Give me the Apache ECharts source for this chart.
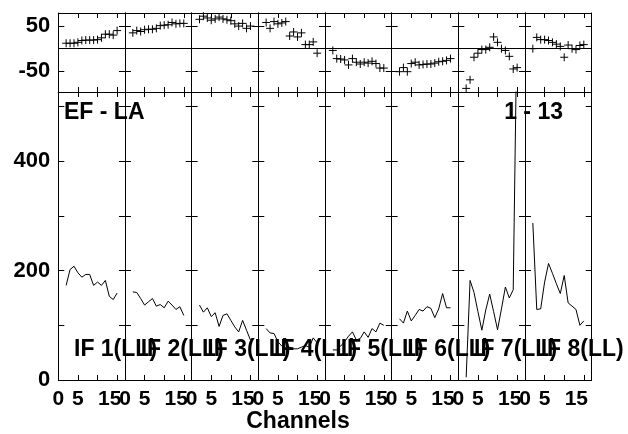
<!DOCTYPE html>
<html>
<head>
<meta charset="utf-8">
<script src="https://cdn.jsdelivr.net/npm/echarts@6/dist/echarts.min.js"></script>
<style>html,body{margin:0;padding:0;background:#fff}#c{width:628px;height:434px}</style>
</head>
<body>
<div id="c"></div>
<script>
// ---- data ----
const CHANNELS = [2, 3, 4, 5, 6, 7, 8, 9, 10, 11, 12, 13, 14, 15];
const IF_LABELS = ['IF 1(LL)', 'IF 2(LL)', 'IF 3(LL)', 'IF 4(LL)', 'IF 5(LL)', 'IF 6(LL)', 'IF 7(LL)', 'IF 8(LL)'];
const BASELINE_LABEL = 'EF - LA';
const TIME_LABEL = '1 - 13';
const X_NAME = 'Channels';
const X_TICK_LABELS = [0, 5, 15];
const AMP_TICK_LABELS = [0, 200, 400];
const PHASE_TICK_LABELS = [-50, 50];

const PHASE_1 = [12, 12, 12, 14, 18, 19, 19, 19, 20, 24, 32, 32, 30, 40];
const PHASE_2 = [35, 40, 38, 42, 43, 43, 45, 51, 52, 53, 58, 55, 56, 56];
const PHASE_3 = [65, 72, 68, 63, 66, 70, 66, 64, 62, 55, 50, 56, 45, 50];
const PHASE_4 = [58, 45, 60, 55, 57, 60, 28, 37, 26, 35, 9, 9, 15, -10];
const PHASE_5 = [-4, -22, -23, -25, -36, -22, -30, -34, -30, -32, -28, -33, -43, -43];
const PHASE_6 = [-51, -42, -51, -33, -30, -36, -35, -34, -34, -32, -29, -28, -26, -22];
const PHASE_7 = [-88, -69, -19, -10, -2, -2, 3, 26, 14, 0, -4, -17, -45, -42];
const PHASE_8 = [0, 25, 20, 20, 18, 14, 10, 5, -19, 8, 0, -2, 7, 9];

const AMP_1 = [173, 202, 208, 196, 188, 193, 193, 173, 179, 173, 182, 153, 147, 159];
const AMP_2 = [161, 160, 149, 137, 143, 149, 135, 138, 132, 144, 137, 129, 134, 118];
const AMP_3 = [137, 124, 132, 116, 123, 98, 118, 121, 109, 97, 88, 109, 91, 73];
const AMP_4 = [94, 86, 85, 70, 62, 58, 60, 57, 57, 60, 63, 60, 77, 68];
const AMP_5 = [55, 55, 62, 70, 80, 88, 73, 76, 88, 78, 94, 88, 104, 100];
const AMP_6 = [112, 104, 126, 108, 118, 129, 126, 134, 131, 114, 130, 158, 132, 132];
const AMP_7 = [5, 182, 160, 125, 91, 128, 157, 125, 92, 130, 170, 150, 165, 680];
const AMP_8 = [287, 129, 130, 179, 213, 195, 176, 158, 191, 141, 135, 129, 100, 108];

const PHASES = [PHASE_1, PHASE_2, PHASE_3, PHASE_4, PHASE_5, PHASE_6, PHASE_7, PHASE_8];
const AMPS = [AMP_1, AMP_2, AMP_3, AMP_4, AMP_5, AMP_6, AMP_7, AMP_8];

// ---- layout / style ----
const FONT = '"Liberation Sans", Arial, Helvetica, sans-serif';
const PLOT_LEFT = 58.3, PANEL_W = 66.67;
const PHASE_TOP = 13, SPLIT_Y = 92, AMP_BOTTOM = 380;
const X_MIN = 0, X_MAX = 17;
const PH_MIN = -96, PH_MAX = 79;
const AMP_MIN = 0, AMP_MAX = 526.5;

const chart = echarts.init(document.getElementById('c'), null, {renderer: 'canvas'});

const grids = [], xAxes = [], yAxes = [], series = [], graphics = [];
const axisLine = {show: true, onZero: false, lineStyle: {color: '#000', width: 1}};

function addGrid(left, top, height) {
  grids.push({left: left, top: top, width: PANEL_W, height: height, containLabel: false});
  return grids.length - 1;
}

for (let p = 0; p < 8; p++) {
  const left = PLOT_LEFT + p * PANEL_W;
  const gp = addGrid(left, PHASE_TOP, SPLIT_Y - PHASE_TOP);
  const ga = addGrid(left, SPLIT_Y, AMP_BOTTOM - SPLIT_Y);

  [gp, ga].forEach(function (g) {
    const isAmp = g === ga;
    xAxes.push({
      type: 'value', gridIndex: g, position: 'bottom', min: X_MIN, max: X_MAX,
      axisLine: axisLine, splitLine: {show: false},
      axisTick: {show: true, inside: true, length: 5, customValues: [5, 10, 15], lineStyle: {color: '#000'}},
      axisLabel: {
        show: isAmp, customValues: X_TICK_LABELS, margin: 9,
        color: '#000', fontFamily: FONT, fontWeight: 'bold', fontSize: 21,
        formatter: function (v) { return v === 15 ? '{s|15}' : String(v); },
        rich: {s: {padding: [0, 15, 0, 0], color: '#000', fontFamily: FONT, fontWeight: 'bold', fontSize: 21}}
      }
    });
    xAxes.push({
      type: 'value', gridIndex: g, position: 'top', min: X_MIN, max: X_MAX,
      axisLine: axisLine, splitLine: {show: false},
      axisTick: {show: true, inside: true, length: 5, customValues: [5, 10, 15], lineStyle: {color: '#000'}},
      axisLabel: {show: false}
    });
    const ymin = isAmp ? AMP_MIN : PH_MIN, ymax = isAmp ? AMP_MAX : PH_MAX;
    const ticks = isAmp ? [100, 200, 300, 400, 500] : [-50, 50];
    yAxes.push({
      type: 'value', gridIndex: g, position: 'left', min: ymin, max: ymax,
      axisLine: axisLine, splitLine: {show: false},
      axisTick: {show: true, inside: true, length: 6, customValues: ticks, lineStyle: {color: '#000'}},
      axisLabel: {
        show: p === 0, customValues: isAmp ? AMP_TICK_LABELS : PHASE_TICK_LABELS, margin: 8,
        color: '#000', fontFamily: FONT, fontWeight: 'bold', fontSize: 22
      }
    });
    yAxes.push({
      type: 'value', gridIndex: g, position: 'right', min: ymin, max: ymax,
      axisLine: axisLine, splitLine: {show: false},
      axisTick: {show: true, inside: true, length: 6, customValues: ticks, lineStyle: {color: '#000'}},
      axisLabel: {show: false}
    });
  });

  series.push({
    type: 'scatter', xAxisIndex: 2 * gp, yAxisIndex: 2 * gp,
    data: CHANNELS.map(function (c, i) { return [c, PHASES[p][i]]; }),
    symbol: 'path://M0,5L10,5M5,0L5,10', symbolSize: 8,
    itemStyle: {color: 'rgba(0,0,0,0)', borderColor: '#000', borderWidth: 1, opacity: 1},
    silent: true, animation: false,
    markLine: {
      silent: true, symbol: 'none', animation: false,
      label: {show: false},
      lineStyle: {color: '#000', width: 1, type: 'solid'},
      data: [{yAxis: 0}]
    }
  });
  series.push({
    type: 'line', xAxisIndex: 2 * ga, yAxisIndex: 2 * ga,
    data: CHANNELS.map(function (c, i) { return [c, AMPS[p][i]]; }),
    showSymbol: false, symbol: 'none', clip: true,
    lineStyle: {color: '#000', width: 1},
    silent: true, animation: false
  });

  graphics.push({
    type: 'text', x: left + 15.7, y: 350, z: 100,
    style: {text: IF_LABELS[p], fill: '#000', font: 'bold 23px ' + FONT, align: 'left', verticalAlign: 'middle'}
  });
}

graphics.push({
  type: 'text', x: 64, y: 113, z: 100,
  style: {text: BASELINE_LABEL, fill: '#000', font: 'bold 23px ' + FONT, align: 'left', verticalAlign: 'middle'}
});
graphics.push({
  type: 'text', x: 563, y: 113, z: 100,
  style: {text: TIME_LABEL, fill: '#000', font: 'bold 23px ' + FONT, align: 'right', verticalAlign: 'middle'}
});
graphics.push({
  type: 'text', x: 298, y: 422, z: 100,
  style: {text: X_NAME, fill: '#000', font: 'bold 23px ' + FONT, align: 'center', verticalAlign: 'middle'}
});

chart.setOption({
  backgroundColor: '#fff',
  animation: false,
  grid: grids,
  xAxis: xAxes,
  yAxis: yAxes,
  series: series,
  graphic: graphics
});
</script>
</body>
</html>
